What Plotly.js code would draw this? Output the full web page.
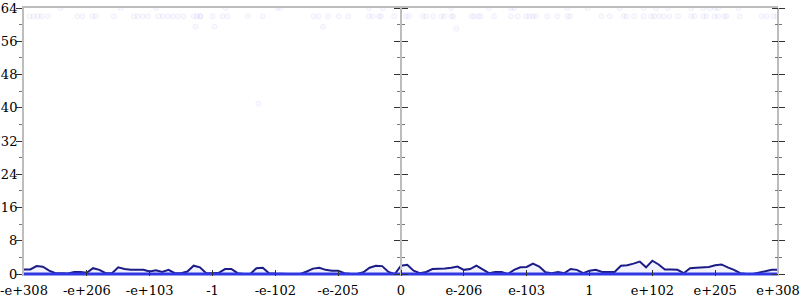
<!DOCTYPE html>
<html><head><meta charset="utf-8">
<script src="https://cdn.plot.ly/plotly-3.0.1.min.js"></script>
<style>html,body{margin:0;padding:0;background:#fff}#c{width:800px;height:300px}</style>
</head><body><div id="c"></div>
<script>
// tick labels (evenly spaced positions along the float-bit axis)
var tickPos = [-6,-5,-4,-3,-2,-1,0,1,2,3,4,5,6];
var tickText = ["-e+308","-e+206","-e+103","-1","-e-102","-e-205","0","e-206","e-103","1","e+102","e+205","e+308"];

// main series x positions (axis units) and counts
var seriesX = [-6.0,-5.9,-5.8,-5.7,-5.6,-5.5,-5.4,-5.3,-5.2,-5.1,-5.0,-4.9,-4.8,-4.7,-4.6,-4.5,-4.4,-4.3,-4.2,-4.1,
 -4.0,-3.9,-3.8,-3.7,-3.6,-3.5,-3.4,-3.3,-3.2,-3.1,-3.0,-2.9,-2.8,-2.7,-2.6,-2.5,-2.4,-2.3,-2.2,-2.1,
 -2.0,-1.9,-1.8,-1.7,-1.6,-1.5,-1.4,-1.3,-1.2,-1.1,-1.0,-0.9,-0.8,-0.7,-0.6,-0.5,-0.4,-0.3,-0.2,-0.1,
 0.0,0.1,0.2,0.3,0.4,0.5,0.6,0.7,0.8,0.9,1.0,1.1,1.2,1.3,1.4,1.5,1.6,1.7,1.8,1.9,
 2.0,2.1,2.2,2.3,2.4,2.5,2.6,2.7,2.8,2.9,3.0,3.1,3.2,3.3,3.4,3.5,3.6,3.7,3.8,3.9,
 4.0,4.1,4.2,4.3,4.4,4.5,4.6,4.7,4.8,4.9,5.0,5.1,5.2,5.3,5.4,5.5,5.6,5.7,5.8,5.9,6.0];
var seriesA = [1.1,1.1,1.9,1.75,0.8,0.2,0.2,0.1,0.5,0.5,0.3,1.4,1.0,0.2,0.2,1.6,1.2,1.0,1.0,1.0,
 0.6,0.9,0.5,1.0,0.2,0.2,0.6,2.0,1.6,0.2,0.2,0.3,1.2,1.2,0.2,0,0,1.4,1.5,0.2,
 0.1,0,0,0,0,0.6,1.3,1.5,1.0,0.8,0.8,0.2,0,0,0.4,1.5,2.0,1.9,0.5,0,
 2.0,2.2,0.8,0.2,0.5,1.2,1.2,1.3,1.5,1.8,1.0,1.2,2.0,1.2,0.2,0.5,0.5,0,1.0,1.6,
 1.7,2.5,1.8,0.4,0.2,0.5,0.2,1.2,1.0,0.2,0.8,1.0,0.5,0.5,0.5,2.0,2.1,2.5,3.0,1.6,
 3.2,2.3,1.1,1.1,1.0,0.2,1.4,1.5,1.6,1.7,2.1,2.3,1.6,1.0,0.2,0,0,0.3,0.6,1.0,1.0];
var baseX = [-6, 6];
var baseB = [0, 0];

// faint scattered samples near the top
var dotsX = [-5.91,-5.85,-5.78,-5.72,-5.62,-5.15,-5.07,-4.91,-4.86,-4.57,-4.25,-4.19,-4.11,-4.03,-3.86,-3.79,-3.71,-3.63,-3.55,-3.46,-3.30,-3.25,-3.20,
 -3.19,-3.00,-2.84,-2.76,-2.44,-2.20,-1.39,-1.31,-1.16,-0.99,-0.84,-0.51,-0.45,-0.35,-0.32,-0.11,
 0.08,0.13,0.35,0.40,0.51,0.64,0.69,0.80,0.83,1.12,1.16,1.23,1.27,1.48,1.75,1.86,1.99,2.04,2.10,2.15,2.33,2.49,2.65,2.69,
 3.19,3.32,3.54,3.59,3.71,3.86,3.98,4.03,4.11,4.18,4.27,4.41,4.62,4.67,4.81,4.86,4.99,5.05,5.15,5.18,5.39,5.74,5.82,5.93,5.98,
 -5.42,-4.46,-3.90,-2.79,-1.97,-1.92,-0.51,-0.29,0.80,1.40,1.75,1.80,2.65,2.97,3.48,3.86,4.06,4.25,4.62,4.81,4.92,5.00,5.05,5.37,
 -3.27,-2.97,-1.24,0.88,-2.27];
var dotsY = [62,62,62,62,62,62,62,62,62,62,62,62,62,62,62,62,62,62,62,62,62,62,62,
 62,62,62,62,62,62,62,62,62,62,62,62,62,62,62,62,
 62,62,62,62,62,62,62,62,62,62,62,62,62,62,62,62,62,62,62,62,62,62,62,62,
 62,62,62,62,62,62,62,62,62,62,62,62,62,62,62,62,62,62,62,62,62,62,62,62,62,
 64,64,64,64,64,64,64,64,64,64,64,64,64,64,64,64,64,64,64,64,64,64,64,64,
 59.5,59.5,59.5,59,41];

var serif = "DejaVu Serif, serif";
var gray = "#bdbdbd";
var yBase = {range:[-0.48,64], dtick:8, tick0:0, ticklen:6, tickwidth:1, tickcolor:"#333",
  minor:{ticks:"outside", ticklen:3, dtick:4, tickcolor:"#777", tickwidth:1},
  showgrid:false, zeroline:false, fixedrange:true};
function ax(extra){ var o = JSON.parse(JSON.stringify(yBase)); for (var k in extra) o[k]=extra[k]; return o; }

var traces = [
  {x:dotsX, y:dotsY, type:"scatter", mode:"markers", hoverinfo:"skip",
   marker:{symbol:"circle", size:5, color:"rgba(120,120,240,0.04)", line:{color:"rgba(110,110,235,0.09)", width:1}}},
  {x:seriesX, y:seriesA, type:"scatter", mode:"lines", fill:"tozeroy", fillcolor:"rgba(130,130,255,0.10)",
   line:{color:"#1c1c86", width:2}},
  {x:baseX, y:baseB, type:"scatter", mode:"lines", line:{color:"#3038e6", width:3}}
];

var layout = {
  width:800, height:300, margin:{l:24, r:22, t:8, b:24},
  paper_bgcolor:"#fff", plot_bgcolor:"#fff", showlegend:false,
  font:{family:serif, size:13, color:"#000"},
  xaxis:{range:[-6,6], tickmode:"array", tickvals:tickPos, ticktext:tickText,
    ticks:"inside", ticklen:6, tickcolor:"#333", showline:false, showgrid:false, zeroline:false,
    ticklabelstandoff:5,
    tickfont:{family:serif, size:13, color:"#000"}, fixedrange:true},
  xaxis2:{range:[-6,6], overlaying:"x", side:"top", showline:true, linecolor:gray, linewidth:2,
    showticklabels:false, ticks:"", showgrid:false, zeroline:false, fixedrange:true},
  yaxis: ax({ticks:"outside", showline:true, linecolor:gray, linewidth:2, ticklabelstandoff:-4,
    tickfont:{family:serif, size:13, color:"#000"}}),
  yaxis2: ax({overlaying:"y", anchor:"free", position:0.5, side:"left", ticks:"outside",
    showline:true, linecolor:gray, linewidth:2, showticklabels:false}),
  yaxis3: ax({overlaying:"y", anchor:"free", position:0.5, side:"right", ticks:"outside",
    showline:false, showticklabels:false}),
  yaxis4: ax({overlaying:"y", anchor:"free", position:1, side:"right", ticks:"outside",
    showline:true, linecolor:gray, linewidth:2, showticklabels:false}),
  yaxis5: ax({overlaying:"y", anchor:"free", position:1, side:"left", ticks:"outside",
    showline:false, showticklabels:false})
};
// invisible helper traces to activate the overlay axes
traces.push({x:[0], y:[0], xaxis:"x2", yaxis:"y", type:"scatter", mode:"markers", marker:{opacity:0}, hoverinfo:"skip"});
traces.push({x:[0], y:[0], xaxis:"x", yaxis:"y2", type:"scatter", mode:"markers", marker:{opacity:0}, hoverinfo:"skip"});
traces.push({x:[0], y:[0], xaxis:"x", yaxis:"y3", type:"scatter", mode:"markers", marker:{opacity:0}, hoverinfo:"skip"});
traces.push({x:[0], y:[0], xaxis:"x", yaxis:"y4", type:"scatter", mode:"markers", marker:{opacity:0}, hoverinfo:"skip"});
traces.push({x:[0], y:[0], xaxis:"x", yaxis:"y5", type:"scatter", mode:"markers", marker:{opacity:0}, hoverinfo:"skip"});

Plotly.newPlot("c", traces, layout, {displayModeBar:false, staticPlot:true});
</script></body></html>
